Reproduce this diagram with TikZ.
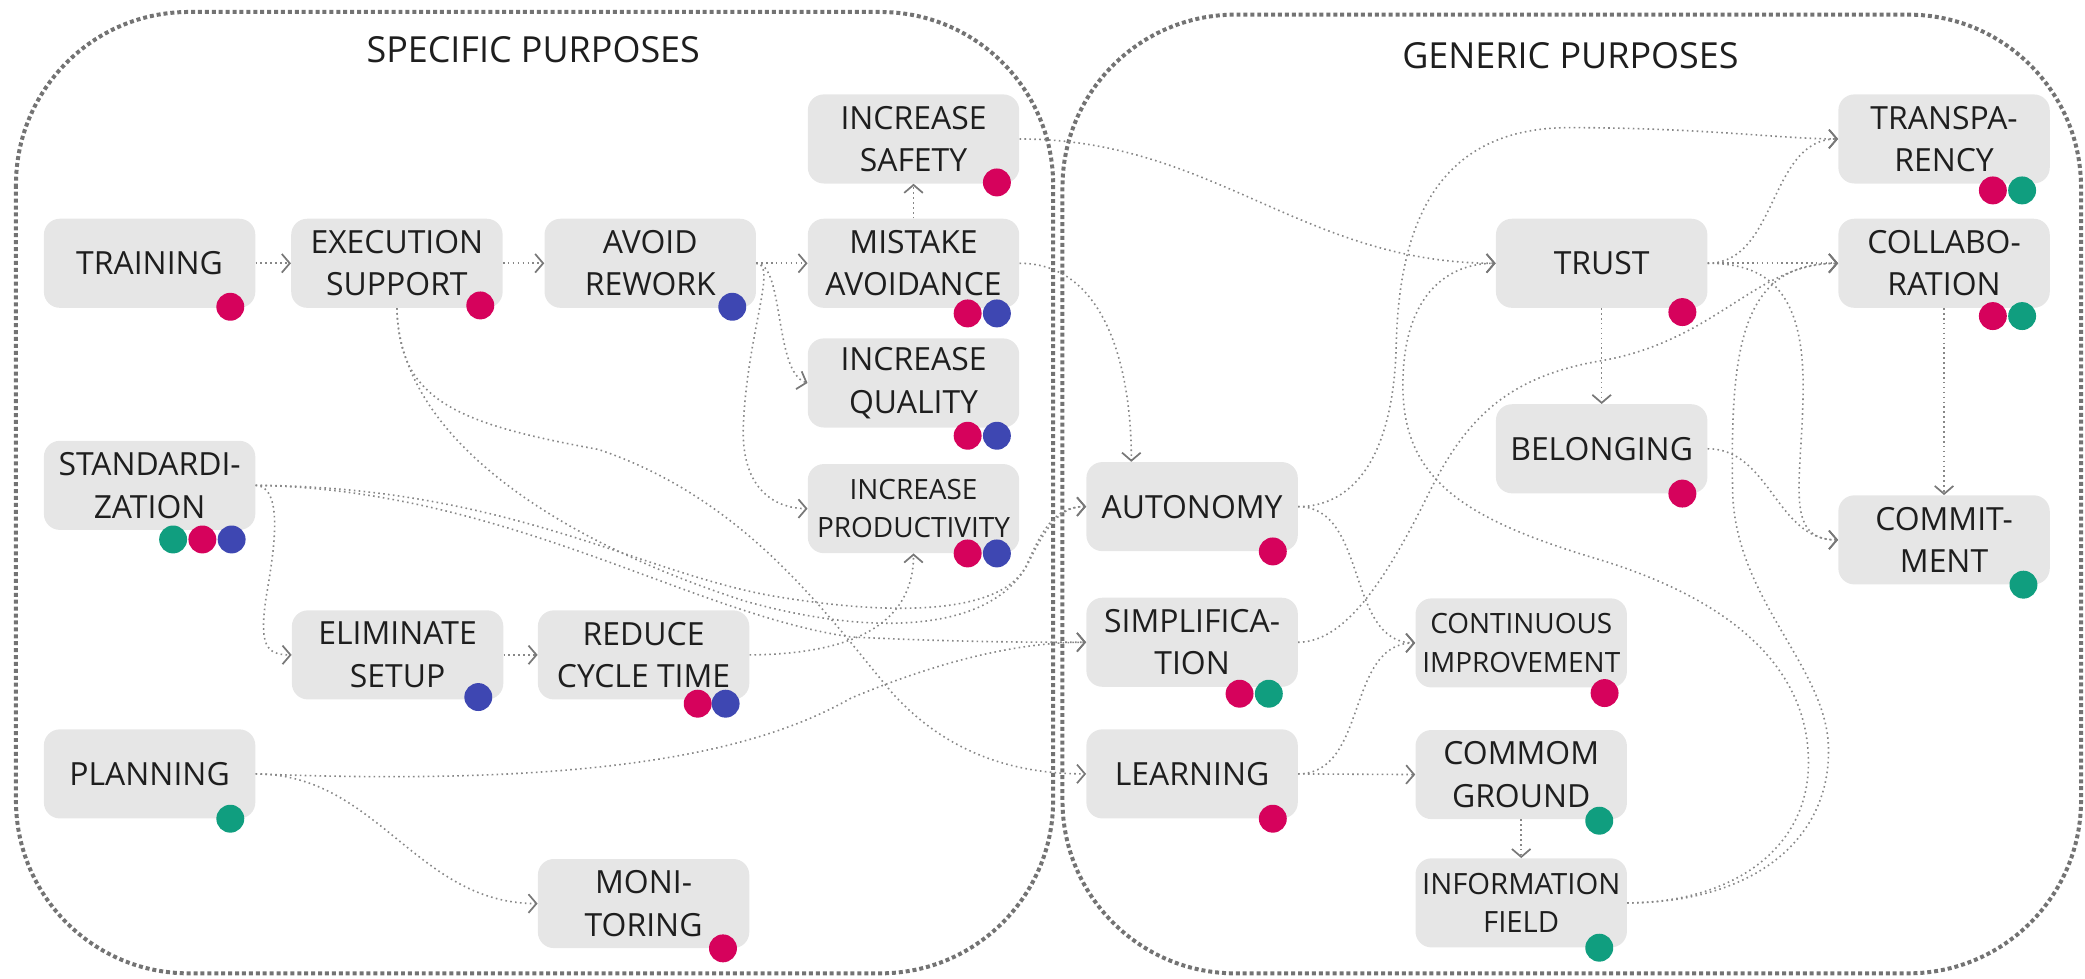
\documentclass[tikz,border=0pt]{standalone}
\usepackage{fontspec}
\setmainfont{Open Sans}
\usetikzlibrary{arrows.meta,calc}
\definecolor{cpink}{RGB}{214,2,92}
\definecolor{cblue}{RGB}{62,71,178}
\definecolor{cgreen}{RGB}{16,158,127}
\definecolor{boxfill}{RGB}{230,230,230}
\definecolor{conncol}{RGB}{135,135,135}
\definecolor{arrcol}{RGB}{120,120,120}
\definecolor{outercol}{RGB}{115,115,115}
\definecolor{txt}{RGB}{30,30,30}
\tikzset{
  pbox/.style={fill=boxfill, rounded corners=12pt, minimum width=159pt, minimum height=67pt,
    inner sep=0pt, align=center, text=txt, font=\fontsize{24}{32}\selectfont},
  smalltext/.style={font=\fontsize{21}{29}\selectfont},
  conn/.style={draw=conncol, line width=1.2pt, dash pattern=on 1.2pt off 2.5pt,
    -{Straight Barb[length=6pt,width=14pt,line width=1.3pt,color=arrcol]}},
  outerbox/.style={draw=outercol, line width=3pt, dash pattern=on 3pt off 2.2pt, rounded corners=130pt},
  titletext/.style={text=txt, font=\fontsize{27}{32}\selectfont}
}
\newcommand\mydot[3]{\fill[#1] ($(#2.south east)+#3$) circle[radius=10.5pt];}
\begin{document}
\begin{tikzpicture}[x=1pt,y=-1pt]
\useasboundingbox (0,0) rectangle (1568,735.5);
% outer regions
\draw[outerbox] (12,9) rectangle (792,732);
\draw[outerbox] (799,11) rectangle (1565,732);
\node[titletext] (t1) at (401,37) {SPECIFIC PURPOSES};
\node[titletext] (t2) at (1181,41.5) {GENERIC PURPOSES};
% nodes
\node[pbox] (train) at (112.5,198) {TRAINING};
\node[pbox] (exec) at (298.5,198) {EXECUTION\\SUPPORT};
\node[pbox] (avoid) at (489,198) {AVOID\\REWORK};
\node[pbox] (safety) at (687,104.5) {INCREASE\\SAFETY};
\node[pbox] (mist) at (687,198) {MISTAKE\\AVOIDANCE};
\node[pbox] (quality) at (687,288) {INCREASE\\QUALITY};
\node[pbox,smalltext] (prod) at (687,382.5) {INCREASE\\PRODUCTIVITY};
\node[pbox] (std) at (112.5,365) {STANDARDI-\\ZATION};
\node[pbox] (elim) at (299,492.5) {ELIMINATE\\SETUP};
\node[pbox] (red) at (484,492.5) {REDUCE\\CYCLE TIME};
\node[pbox] (plan) at (112.5,582) {PLANNING};
\node[pbox] (mon) at (484,679.5) {MONI-\\TORING};
\node[pbox] (auto) at (896.5,381) {AUTONOMY};
\node[pbox] (simp) at (896.5,483) {SIMPLIFICA-\\TION};
\node[pbox] (learn) at (896.5,582) {LEARNING};
\node[pbox] (trust) at (1204.5,198) {TRUST};
\node[pbox] (bel) at (1204.5,337.5) {BELONGING};
\node[pbox,smalltext] (ci) at (1144,483.5) {CONTINUOUS\\IMPROVEMENT};
\node[pbox] (cg) at (1144,582.5) {COMMOM\\GROUND};
\node[pbox,font=\fontsize{22}{29}\selectfont] (info) at (1144,679) {INFORMATION\\FIELD};
\node[pbox] (trans) at (1462,104.5) {TRANSPA-\\RENCY};
\node[pbox] (collab) at (1462,198) {COLLABO-\\RATION};
\node[pbox] (commit) at (1462,406) {COMMIT-\\MENT};
\coordinate (autotop) at ($(auto.north west)+(34,0)$);
% connectors: specific
\draw[conn] (train.east) -- (exec.west);
\draw[conn] (exec.east) -- (avoid.west);
\draw[conn] (avoid.east) -- (mist.west);
\draw[conn] (mist.north) -- (safety.south);
\draw[conn] (avoid.east) .. controls (590,198) and (582,280) .. (quality.west);
\draw[conn] (avoid.east) .. controls (585,198) and (562,250) .. (559,320) .. controls (557,370) and (585,382.5) .. (prod.west);
\draw[conn] (mist.east) .. controls (833,198) and (851,281) .. (autotop);
\draw[conn] (safety.east) .. controls (912,104.5) and (980,198) .. (trust.west);
\draw[conn] (exec.south) .. controls (300,300) and (340,318) .. (450,338) .. controls (560,375) and (620,460) .. (670,520) .. controls (710,565) and (760,582) .. (learn.west);
\draw[conn] (exec.south) .. controls (300,320) and (400,400) .. (560,452) .. controls (660,480) and (750,475) .. (775,420) .. controls (790,390) and (800,381) .. (auto.west);
\draw[conn] (std.east) .. controls (380,366) and (480,430) .. (580,448) .. controls (680,465) and (755,460) .. (772,425) .. controls (785,395) and (795,381) .. (auto.west);
\draw[conn] (std.east) .. controls (380,368) and (520,462) .. (640,479) .. controls (720,483) and (780,483) .. (simp.west);
\draw[conn] (std.east) .. controls (215,366) and (205,420) .. (200,450) .. controls (195,485) and (200,492.5) .. (elim.west);
\draw[conn] (elim.east) -- (red.west);
\draw[conn] (red.east) .. controls (640,492) and (687,470) .. (prod.south);
\draw[conn] (plan.east) .. controls (450,592) and (570,565) .. (640,525) .. controls (700,500) and (760,483) .. (simp.west);
\draw[conn] (plan.east) .. controls (284,582) and (313,679.5) .. (mon.west);
% connectors: generic
\draw[conn] (auto.east) .. controls (1020,381) and (1048,340) .. (1050,260) .. controls (1052,170) and (1080,96) .. (1180,96) .. controls (1280,96) and (1340,104.5) .. (trans.west);
\draw[conn] (auto.east) .. controls (1029,381) and (1012,483.5) .. (ci.west);
\draw[conn] (learn.east) .. controls (1029,582) and (1012,483.5) .. (ci.west);
\draw[conn] (learn.east) -- (cg.west);
\draw[conn] (cg.south) -- (info.north);
\draw[conn] (simp.east) .. controls (1010,483) and (1040,440) .. (1072,376) .. controls (1100,318) and (1130,285) .. (1200,272) .. controls (1290,258) and (1320,198) .. (collab.west);
\draw[conn] (info.east) .. controls (1300,679) and (1362,640) .. (1360,570) .. controls (1358,500) and (1300,450) .. (1200,420) .. controls (1100,390) and (1055,360) .. (1055,290) .. controls (1055,220) and (1090,198) .. (trust.west);
\draw[conn] (info.east) .. controls (1320,679) and (1378,630) .. (1375,560) .. controls (1372,500) and (1305,450) .. (1303,370) .. controls (1301,260) and (1310,198) .. (collab.west);
\draw[conn] (trust.east) .. controls (1337,198) and (1330,104.5) .. (trans.west);
\draw[conn] (trust.east) -- (collab.west);
\draw[conn] (trust.south) -- (bel.north);
\draw[conn] (trust.east) .. controls (1330,198) and (1356,220) .. (1356,290) .. controls (1356,360) and (1340,406) .. (commit.west);
\draw[conn] (bel.east) .. controls (1331,337.5) and (1336,406) .. (commit.west);
\draw[conn] (collab.south) -- (commit.north);
% dots
\mydot{cpink}{train}{(-19,-1)}
\mydot{cpink}{exec}{(-17,-2)}
\mydot{cblue}{avoid}{(-18,-1)}
\mydot{cpink}{safety}{(-17,-1)}
\mydot{cpink}{mist}{(-39,4)}
\mydot{cblue}{mist}{(-17,4)}
\mydot{cpink}{quality}{(-39,6)}
\mydot{cblue}{quality}{(-17,6)}
\mydot{cpink}{prod}{(-39,0)}
\mydot{cblue}{prod}{(-17,0)}
\mydot{cgreen}{std}{(-62,7)}
\mydot{cpink}{std}{(-40,7)}
\mydot{cblue}{std}{(-18,7)}
\mydot{cblue}{elim}{(-19,-2)}
\mydot{cpink}{red}{(-39,3)}
\mydot{cblue}{red}{(-18,3)}
\mydot{cgreen}{plan}{(-19,0)}
\mydot{cpink}{mon}{(-20,0)}
\mydot{cpink}{auto}{(-19,0)}
\mydot{cpink}{simp}{(-44,5)}
\mydot{cgreen}{simp}{(-22,5)}
\mydot{cpink}{learn}{(-19,0)}
\mydot{cpink}{trust}{(-19,3)}
\mydot{cpink}{bel}{(-19,0)}
\mydot{cpink}{ci}{(-17,4)}
\mydot{cgreen}{cg}{(-21,1)}
\mydot{cgreen}{info}{(-21,0)}
\mydot{cpink}{trans}{(-43,5)}
\mydot{cgreen}{trans}{(-21,5)}
\mydot{cpink}{collab}{(-43,6)}
\mydot{cgreen}{collab}{(-21,6)}
\mydot{cgreen}{commit}{(-20,0)}
\end{tikzpicture}
\end{document}
